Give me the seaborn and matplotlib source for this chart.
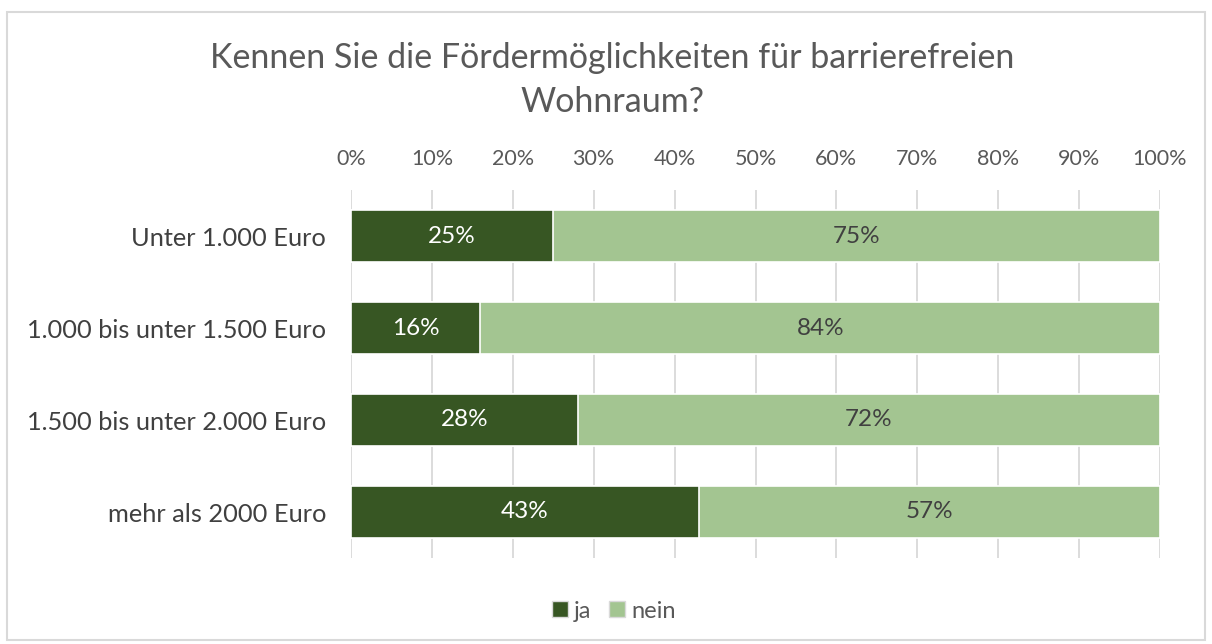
import matplotlib
matplotlib.use("Agg")
import matplotlib.pyplot as plt
import seaborn as sns
import pandas as pd
from matplotlib.patches import Patch, Rectangle

categories = ["Unter 1.000 Euro", "1.000 bis unter 1.500 Euro",
              "1.500 bis unter 2.000 Euro", "mehr als 2000 Euro"]
ja = [25, 16, 28, 43]
nein = [75, 84, 72, 57]
ja_labels = ["25%", "16%", "28%", "43%"]
nein_labels = ["75%", "84%", "72%", "57%"]
ticks = [0, 10, 20, 30, 40, 50, 60, 70, 80, 90, 100]
title = "Kennen Sie die Fördermöglichkeiten für barrierefreien\nWohnraum?"

dark = "#375623"
light = "#A3C591"
text_gray = "#595959"

sns.set_theme(style="white")
plt.rcParams['font.family'] = ['Lato', 'DejaVu Sans']

df = pd.DataFrame({"cat": categories, "ja": ja, "nein": nein})
df["total"] = df["ja"] + df["nein"]

fig = plt.figure(figsize=(12.12, 6.44), dpi=100)
ax = fig.add_axes([351/1212, 1-558/644, (1160-351)/1212, 368/644])

sns.barplot(data=df, y="cat", x="total", color=light, orient="h", ax=ax,
            width=0.56, edgecolor="white", linewidth=1.2, saturation=1, zorder=3)
sns.barplot(data=df, y="cat", x="ja", color=dark, orient="h", ax=ax,
            width=0.56, edgecolor="white", linewidth=1.2, saturation=1, zorder=4)

for i in range(len(categories)):
    ax.text(ja[i] / 2, i, ja_labels[i], ha="center", va="center",
            color="white", fontsize=17.5, zorder=5)
    ax.text(ja[i] + nein[i] / 2, i, nein_labels[i], ha="center", va="center",
            color="#404040", fontsize=17.5, zorder=5)

ax.set_xlim(0, 100)
ax.set_ylim(3.5, -0.5)
ax.set_xticks(ticks)
ax.set_xticklabels([f"{t}%" for t in ticks], fontsize=15.5, color=text_gray)
ax.xaxis.tick_top()
ax.tick_params(axis="x", length=0, pad=15)
ax.tick_params(axis="y", length=0, pad=18, labelsize=18.3, labelcolor="#404040")
ax.set_xlabel("")
ax.set_ylabel("")
ax.grid(axis="x", color="#D9D9D9", linewidth=1.3, zorder=0)
ax.set_axisbelow(True)
for s in ax.spines.values():
    s.set_visible(False)

fig.suptitle(title, fontsize=24.5, color=text_gray, y=1-42/644, va="top",
             x=612/1212, linespacing=1.47)

handles = [Patch(facecolor=dark, edgecolor="#D9D9D9", label="ja"),
           Patch(facecolor=light, edgecolor="#D9D9D9", label="nein")]
fig.legend(handles=handles, loc="center", bbox_to_anchor=(614/1212, 1-611/644),
           ncol=2, frameon=False, fontsize=17, handlelength=0.68, handleheight=0.68,
           handletextpad=0.25, columnspacing=0.75, labelcolor=text_gray)

fig.patches.append(Rectangle((7/1212, 1-640/644), 1198/1212, 628/644,
                             transform=fig.transFigure, fill=False,
                             edgecolor="#D9D9D9", linewidth=1.5))

fig.savefig("out.png", dpi=100, facecolor="white")
